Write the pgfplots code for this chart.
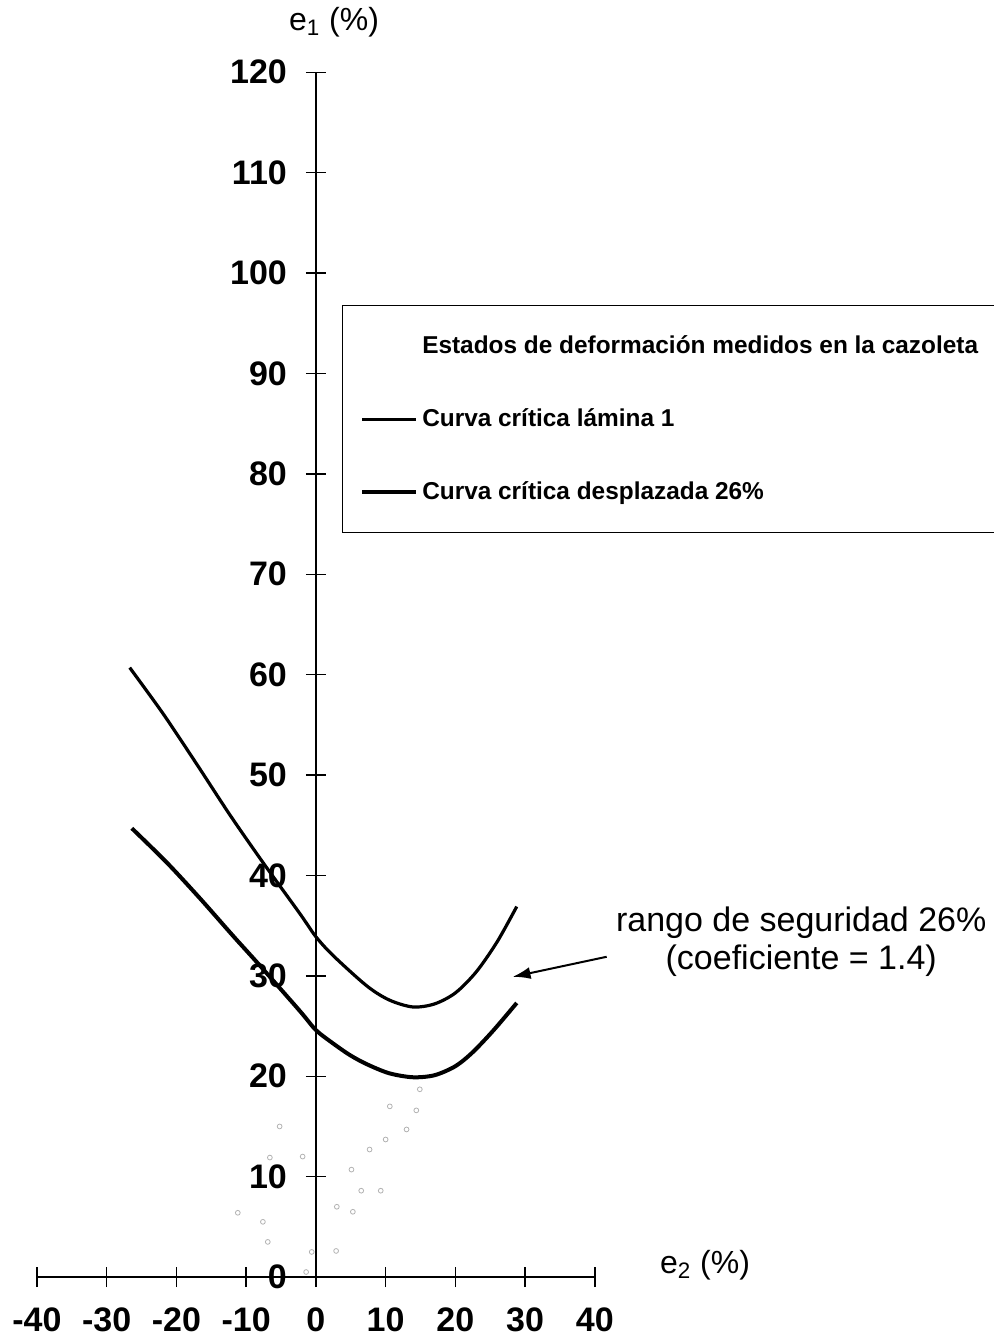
\documentclass[border=0pt]{standalone}
\usepackage{fontspec}
\setmainfont{Liberation Sans}
\usepackage{pgfplots}
\pgfplotsset{compat=1.18}
\usetikzlibrary{arrows.meta}

\begin{document}
\begin{tikzpicture}
\begin{axis}[
  scale only axis,
  width=279pt, height=602.5pt,
  xmin=-40, xmax=40, ymin=0, ymax=120,
  axis lines=middle,
  axis line style={-, line width=0.7pt},
  hide obscured x ticks=false,
  hide obscured y ticks=false,
  xtick={-40,-30,...,40},
  ytick={0,10,...,120},
  tick align=center,
  major tick length=10pt,
  tick style={line width=0.7pt, black},
  /pgf/number format/assume math mode=true,
  xticklabel style={font=\fontsize{17}{19}\selectfont\bfseries, anchor=center, yshift=-16.5pt},
  yticklabel style={font=\fontsize{17}{19}\selectfont\bfseries, anchor=east, xshift=-6pt},
  clip=false,
  legend style={at={(axis cs:3.7,96.8)}, anchor=north west, draw=black, line width=0.6pt,
    font=\fontsize{12.2}{14}\selectfont\bfseries, inner xsep=9pt, inner ysep=13pt,
    row sep=22pt, cells={anchor=west},
    /tikz/every even column/.style={column sep=0pt}},
  legend image code/.code={\draw[#1] (0pt,0pt) -- (27pt,0pt);},
]
\addlegendimage{white}
\addlegendentry{Estados de deformación medidos en la cazoleta}

% curva critica lamina 1
\addplot[black, line width=1.6pt, smooth, tension=0.5] coordinates {
(-26.7,60.7) (-21.9,56.1) (-17.1,51.1) (-12.3,46.0) (-7.6,41.3) (-2.3,36.2)
(0,33.9) (2.5,32.0) (7.3,29.0) (10.5,27.6) (13.9,26.9) (17.0,27.2)
(20.0,28.3) (23.0,30.4) (26.0,33.4) (28.8,36.9)
};
\addlegendentry{Curva crítica lámina 1}

% curva critica desplazada 26%
\addplot[black, line width=2pt, smooth, tension=0.5] coordinates {
(-26.4,44.7) (-21.4,41.3) (-16.6,37.7) (-11.9,34.0) (-8.0,31.0) (-2.3,26.5)
(0,24.6) (2.4,23.3) (4.9,22.1) (7.3,21.2) (10.5,20.3) (13.9,19.9)
(17.0,20.1) (20.0,21.0) (22.5,22.4) (25.5,24.6) (28.8,27.3)
};
\addlegendentry{Curva crítica desplazada 26\%}

% estados medidos (apenas visibles)
\addplot[only marks, mark=o, mark size=1.2pt, gray!60, forget plot] coordinates {
(-5.2,15.0) (-6.6,11.9) (-11.2,6.4) (-7.6,5.5) (-6.9,3.5) (-0.6,2.5)
(-1.4,0.5) (2.9,2.6) (5.3,6.5) (6.5,8.6) (7.7,12.7) (10.0,13.7)
(13.0,14.7) (10.6,17.0) (14.4,16.6) (14.9,18.7) (5.1,10.7) (-1.9,12.0)
(3.0,7.0) (9.3,8.6)
};

\node[font=\fontsize{16}{19}\selectfont] at (axis cs:2.6,125) {e\textsubscript{1} (\%)};
\node[font=\fontsize{16}{19}\selectfont] at (axis cs:55.8,1.2) {e\textsubscript{2} (\%)};
\node[font=\fontsize{17}{19}\selectfont, align=center] at (axis cs:69.6,33.4)
  {rango de seguridad 26\%\\(coeficiente = 1.4)};
\draw[-{Latex[length=9pt,width=6pt]}, line width=1pt] (axis cs:41.7,31.9) -- (axis cs:28.2,29.9);

\coordinate (bbl) at (axis cs:-45.3,-6.57);
\coordinate (btr) at (axis cs:97.1,127.2);
\end{axis}
\pgfresetboundingbox
\path[use as bounding box] (bbl) rectangle (btr);
\end{tikzpicture}
\end{document}
